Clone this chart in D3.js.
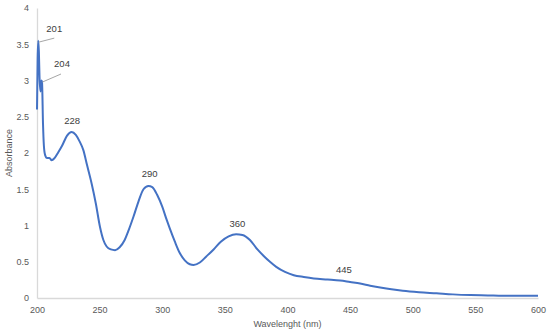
<!DOCTYPE html>
<html>
<head>
  <style>
    body {
      margin: 0;
      padding: 0;
      background: #fff;
      font-family: "Liberation Sans", Arial, sans-serif;
    }
    .tick text { fill: #595959; font-size: 9px; }
    .axis-title { fill: #595959; font-size: 9px; }
    .peak-label { fill: #404040; font-size: 9.5px; }
  </style>
</head>
<body>
  <div id="chart"></div>

  <script src="https://cdnjs.cloudflare.com/ajax/libs/d3/7.8.5/d3.min.js"></script>
  <script>
    // Spectrum (nm, absorbance)
    const wavelength = [200, 200.5, 201, 201.5, 202, 202.8, 203.5, 204, 204.8, 205.5, 206.5, 208, 210, 211.7, 214,
      217, 220, 224, 227.7, 231, 234, 237, 240, 243.6, 247, 250.3, 253, 255.6, 259, 262.3, 266, 270, 273.5, 277,
      281, 285, 289, 292, 296, 300, 303.5, 306, 310, 314, 318, 322, 325, 330, 335, 341, 347, 353, 359, 364, 370,
      376, 381, 386, 391, 398, 405, 413, 421, 432, 442, 450, 458, 466, 474, 483, 492, 505, 519, 532, 546, 560,
      572, 585, 600];
    const absorbance = [2.60, 3.30, 3.55, 3.40, 3.05, 2.85, 3.00, 2.98, 2.40, 2.10, 1.97, 1.93, 1.93, 1.90, 1.93,
      2.01, 2.10, 2.24, 2.29, 2.25, 2.16, 2.04, 1.83, 1.58, 1.30, 0.98, 0.80, 0.71, 0.67, 0.66, 0.70, 0.80, 0.95, 1.12,
      1.33, 1.50, 1.545, 1.53, 1.42, 1.26, 1.08, 0.96, 0.78, 0.62, 0.52, 0.465, 0.455, 0.49, 0.57, 0.67, 0.78, 0.85, 0.88, 0.87, 0.80,
      0.67, 0.58, 0.50, 0.43, 0.36, 0.315, 0.29, 0.27, 0.255, 0.24, 0.22, 0.20, 0.17, 0.145, 0.12, 0.10, 0.08, 0.065, 0.05, 0.04, 0.035,
      0.03, 0.03, 0.03];

    const xTicks = [200, 250, 300, 350, 400, 450, 500, 550, 600];
    const yTicks = [0, 0.5, 1, 1.5, 2, 2.5, 3, 3.5, 4];

    const peakNm = [201, 204, 228, 290, 360, 445];
    const peakAbs = [3.55, 3.0, 2.29, 1.545, 0.88, 0.235];

    // label placement in pixels from the peak point (styling only);
    // lx/ly = end of the leader line for the two crowded peaks
    const labelOffset = {
      201: { dx: 16, dy: -12.5, lx: 16, ly: -2.5 },
      204: { dx: 20, dy: -17, lx: 19, ly: -6.5 },
      228: { dx: 0, dy: -11 },
      290: { dx: 0, dy: -12 },
      360: { dx: 0, dy: -11 },
      445: { dx: 0, dy: -11 }
    };

    const width = 550, height = 332;
    const margin = { top: 8, right: 12, bottom: 34, left: 37 };

    const svg = d3.select('#chart').append('svg')
      .attr('width', width)
      .attr('height', height);

    const x = d3.scaleLinear().domain([200, 600]).range([margin.left, width - margin.right]);
    const y = d3.scaleLinear().domain([0, 4]).range([height - margin.bottom, margin.top]);

    // axes
    const xAxis = svg.append('g')
      .attr('transform', `translate(0,${y(0)})`)
      .call(d3.axisBottom(x).tickValues(xTicks).tickSize(0).tickPadding(9));
    xAxis.select('.domain').attr('stroke', '#d9d9d9').attr('stroke-width', 1.3);

    const yAxis = svg.append('g')
      .attr('transform', `translate(${x(200)},0)`)
      .call(d3.axisLeft(y).tickValues(yTicks).tickSize(0).tickPadding(8).tickFormat(d3.format('')));
    yAxis.select('.domain').attr('stroke', '#d9d9d9').attr('stroke-width', 1.3);

    svg.selectAll('.tick text').attr('font-family', '"Liberation Sans", Arial, sans-serif');

    // axis titles
    svg.append('text')
      .attr('class', 'axis-title')
      .attr('x', (x(200) + x(600)) / 2)
      .attr('y', 327)
      .attr('text-anchor', 'middle')
      .text('Wavelenght (nm)');

    svg.append('text')
      .attr('class', 'axis-title')
      .attr('transform', `translate(12,${(y(0) + y(4)) / 2}) rotate(-90)`)
      .attr('text-anchor', 'middle')
      .text('Absorbance');

    // spectrum line
    const points = wavelength.map((w, i) => [w, absorbance[i]]);
    const line = d3.line()
      .x(d => x(d[0]))
      .y(d => y(d[1]))
      .curve(d3.curveMonotoneX);

    svg.append('path')
      .datum(points)
      .attr('d', line)
      .attr('fill', 'none')
      .attr('stroke', '#4472c4')
      .attr('stroke-width', 2)
      .attr('stroke-linejoin', 'round');

    // peak labels
    peakNm.forEach((nm, i) => {
      const o = labelOffset[nm];
      const px = x(nm), py = y(peakAbs[i]);
      if (o.lx !== undefined) {
        svg.append('line')
          .attr('x1', px + 0.5).attr('y1', py + 1.5)
          .attr('x2', px + o.lx).attr('y2', py + o.ly)
          .attr('stroke', '#a6a6a6')
          .attr('stroke-width', 1);
      }
      svg.append('text')
        .attr('class', 'peak-label')
        .attr('x', px + o.dx)
        .attr('y', py + o.dy + 3.5)
        .attr('text-anchor', 'middle')
        .text(nm);
    });
  </script>
</body>
</html>
